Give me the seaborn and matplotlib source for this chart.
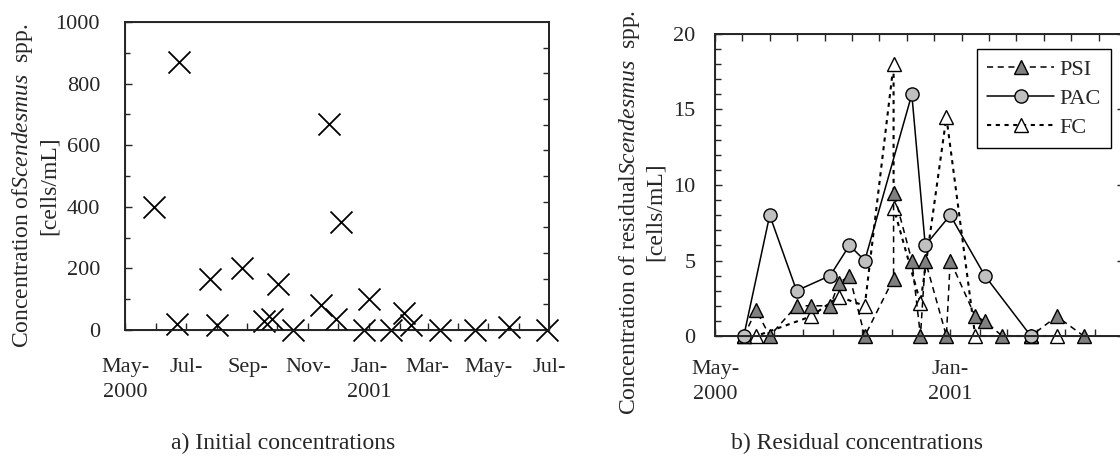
import pandas as pd
import numpy as np
import matplotlib
matplotlib.use('Agg')
import matplotlib.pyplot as plt
import matplotlib.dates as mdates
from matplotlib.ticker import MultipleLocator, FuncFormatter
import seaborn as sns

# a) initial concentrations
init_dates = ["2000-05-30", "2000-06-24", "2000-06-22", "2000-07-25", "2000-08-01",
              "2000-08-27", "2000-09-18", "2000-09-26", "2000-10-02", "2000-10-17",
              "2000-11-14", "2000-11-22", "2000-11-29", "2000-12-04", "2000-12-27",
              "2001-01-01", "2001-01-23", "2001-02-05", "2001-02-12", "2001-03-13",
              "2001-04-18", "2001-05-22", "2001-06-29"]
init_vals = [400, 870, 20, 165, 15, 200, 30, 35, 150, 0, 80, 670, 35, 350, 0,
             100, 0, 55, 15, 0, 0, 10, 0]

# b) residual concentrations
psi_dates = ["2000-05-31", "2000-06-13", "2000-06-27", "2000-07-25", "2000-08-09",
             "2000-08-29", "2000-09-07", "2000-09-18", "2000-10-04", "2000-11-03",
             "2000-11-03", "2000-11-22", "2000-12-01", "2000-12-06", "2000-12-28",
             "2001-01-01", "2001-01-27", "2001-02-06", "2001-02-24", "2001-03-26",
             "2001-04-22", "2001-05-20"]
psi_vals = [0, 1.7, 0, 2, 2, 2, 3.5, 4, 0, 3.8, 9.5, 5, 0, 5, 0, 5, 1.3, 1, 0, 0, 1.3, 0]

pac_dates = ["2000-05-31", "2000-06-27", "2000-07-25", "2000-08-29", "2000-09-18",
             "2000-10-04", "2000-11-22", "2000-12-06", "2001-01-01", "2001-02-06",
             "2001-03-26"]
pac_vals = [0, 8, 3, 4, 6, 5, 16, 6, 8, 4, 0]

fc_dates = ["2000-05-31", "2000-06-13", "2000-08-09", "2000-09-07", "2000-10-04",
            "2000-11-03", "2000-11-03", "2000-12-01", "2000-12-28", "2001-01-27",
            "2001-03-26", "2001-04-22"]
fc_vals = [0, 0, 1.3, 2.6, 2, 18, 8.5, 2.2, 14.5, 0, 0, 0]

sns.set_style('ticks')
plt.rcParams['font.family'] = ['Liberation Serif', 'DejaVu Serif']
plt.rcParams['mathtext.fontset'] = 'custom'
plt.rcParams['mathtext.rm'] = 'Liberation Serif'
plt.rcParams['mathtext.it'] = 'Liberation Serif:italic'
FS = 16     # ticks, legend
FL = 17     # axis titles, captions

fig = plt.figure(figsize=(11.2, 4.57), dpi=100)
ax1 = fig.add_axes([125/1120, 1-330/457, 424/1120, 308/457])
ax2 = fig.add_axes([715/1120, 1-336/457, 409/1120, 302/457])


def month_fmt(labelled):
    def f(x, pos):
        d = mdates.num2date(x)
        key = (d.year, d.month)
        if key not in labelled:
            return ''
        s = d.strftime('%b') + '-'
        if labelled[key]:
            s += '\n' + str(d.year)
        return s
    return f


# ---- left chart
sns.scatterplot(x=pd.to_datetime(init_dates), y=init_vals, marker='x', s=250,
                color='black', linewidth=1.3, clip_on=False, zorder=5, ax=ax1)
ax1.set_xlabel('')
ax1.set_ylabel('')
ax1.set_xlim(pd.Timestamp('2000-05-01'), pd.Timestamp('2001-07-01'))
ax1.set_ylim(0, 1000)
ax1.yaxis.set_major_locator(MultipleLocator(200))
ax1.yaxis.set_minor_locator(MultipleLocator(100))
ax1.xaxis.set_major_locator(mdates.MonthLocator())
lab1 = {(2000, 5): True, (2000, 7): False, (2000, 9): False, (2000, 11): False,
        (2001, 1): True, (2001, 3): False, (2001, 5): False, (2001, 7): False}
ax1.xaxis.set_major_formatter(FuncFormatter(month_fmt(lab1)))
ax1.tick_params(axis='x', direction='in', length=5, width=1, pad=20, labelsize=FS)
ax1.tick_params(axis='y', which='major', direction='in', length=5, width=1, pad=18, labelsize=FS)
ax1.tick_params(axis='y', which='minor', direction='in', length=3.5, width=1)
for sp in ax1.spines.values():
    sp.set_linewidth(1.4)
tw = ax1.twinx()
tw.set_ylim(0, 12)
tw.set_yticks(range(1, 12))
tw.tick_params(axis='y', direction='in', length=4, width=1, labelright=False)
tw.spines['right'].set_linewidth(1.4)

fig.text(0.031, 1-186/457,
         'Concentration of$\\it{Scendesmus}$  spp.\n[cells/mL]',
         rotation=90, ha='center', va='center', multialignment='center', fontsize=FL)

# ---- right chart
sns.lineplot(x=pd.to_datetime(fc_dates), y=fc_vals, estimator=None, sort=False,
             color='black', linewidth=1.5, linestyle=(0, (2, 2.2)), marker='^',
             markersize=9.5, markerfacecolor='white', markeredgecolor='black',
             markeredgewidth=1, clip_on=False, label='FC', ax=ax2)
sns.lineplot(x=pd.to_datetime(psi_dates), y=psi_vals, estimator=None, sort=False,
             color='black', linewidth=1.1, linestyle=(0, (4, 3)), marker='^',
             markersize=9.5, markerfacecolor='#808080', markeredgecolor='black',
             markeredgewidth=1, clip_on=False, label='PSI', ax=ax2)
sns.lineplot(x=pd.to_datetime(pac_dates), y=pac_vals, estimator=None, sort=False,
             color='black', linewidth=1.1, linestyle='-', marker='o',
             markersize=9.5, markerfacecolor='#c0c0c0', markeredgecolor='black',
             markeredgewidth=1, clip_on=False, label='PAC', ax=ax2)

ax2.set_xlim(pd.Timestamp('2000-05-01'), pd.Timestamp('2001-07-01'))
ax2.set_ylim(0, 20)
ax2.set_xlabel('')
ax2.set_ylabel('')
ax2.yaxis.set_major_locator(MultipleLocator(5))
ax2.yaxis.set_minor_locator(MultipleLocator(1))
ax2.xaxis.set_major_locator(mdates.MonthLocator())
lab2 = {(2000, 5): True, (2001, 1): True}
ax2.xaxis.set_major_formatter(FuncFormatter(month_fmt(lab2)))
ax2.tick_params(axis='x', direction='in', length=5, width=1, pad=17, labelsize=FS)
ax2.tick_params(axis='y', which='major', direction='in', length=5, width=1, pad=14,
                labelsize=FS, right=True)
ax2.tick_params(axis='y', which='minor', direction='in', length=4, width=1)
for sp in ax2.spines.values():
    sp.set_linewidth(1.4)
top = ax2.twiny()
top.set_xlim(0, 409/27.4)
top.xaxis.set_major_locator(MultipleLocator(1))
top.tick_params(axis='x', direction='in', length=5, width=1, labeltop=False)

h, l = ax2.get_legend_handles_labels()
order = [l.index('PSI'), l.index('PAC'), l.index('FC')]
leg = ax2.legend([h[i] for i in order], [l[i] for i in order], loc='upper right',
                 bbox_to_anchor=(0.968, 0.95), borderaxespad=0, fontsize=FS,
                 frameon=True, fancybox=False, shadow=False, handlelength=3.0,
                 handletextpad=0.25, labelspacing=0.38, borderpad=0.45)
leg.get_frame().set_edgecolor('black')
leg.get_frame().set_linewidth(1)
leg.get_frame().set_alpha(1)

fig.text(641.5/1120, 1-212/457,
         'Concentration of residual$\\it{Scendesmus}$  spp.\n[cells/mL]',
         rotation=90, ha='center', va='center', multialignment='center', fontsize=FL)

fig.text(283/1120, 1-443/457, 'a) Initial concentrations', ha='center', va='center', fontsize=FL)
fig.text(857/1120, 1-443/457, 'b) Residual concentrations', ha='center', va='center', fontsize=FL)

# wider gap between month and year lines, as in the original
fig.canvas.draw()
for ax in (ax1, ax2):
    for t in ax.xaxis.get_major_ticks():
        t.label1.set_linespacing(1.45)

fig.savefig('out.png', dpi=100)
